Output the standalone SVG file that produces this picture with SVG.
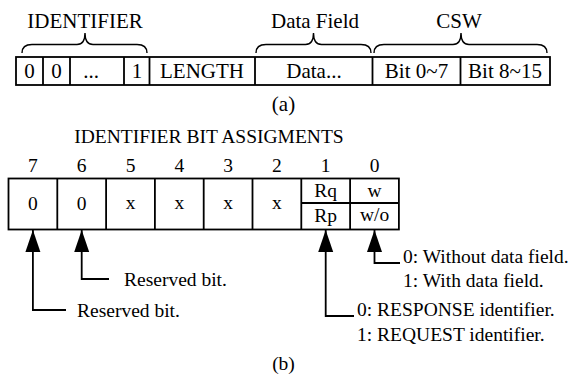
<svg xmlns="http://www.w3.org/2000/svg" width="571" height="376" viewBox="0 0 571 376">
<style>
text{font-family:"Liberation Serif","Times New Roman",serif;fill:#000}
.t{font-size:21px}
.b{font-size:19.5px}
.m{text-anchor:middle}
.box{fill:#fff;stroke:#000;stroke-width:1.8}
.ln{fill:none;stroke:#000;stroke-width:1.8}
.br{fill:none;stroke:#000;stroke-width:1.4}
</style>
<defs>
<marker id="ah" markerUnits="userSpaceOnUse" markerWidth="23" markerHeight="16" refX="22" refY="7.5" orient="auto"><path d="M0,0 L22,7.5 L0,15 z" fill="#000"/></marker>
</defs>
<rect width="571" height="376" fill="#fff"/>
<g id="labels-a">
<text class="t m" x="85" y="28">IDENTIFIER</text>
<text class="t m" x="315" y="28">Data Field</text>
<text class="t m" x="459" y="28">CSW</text>
<path class="br" d="M22,53 Q22,44.5 32,44.5 L77,44.5 Q85,44.5 85,33 Q85,44.5 93,44.5 L137,44.5 Q147,44.5 147,53"/>
<path class="br" d="M256,53 Q256,44.5 266,44.5 L305.5,44.5 Q313.5,44.5 313.5,33 Q313.5,44.5 321.5,44.5 L361,44.5 Q371,44.5 371,53"/>
<path class="br" d="M374,53 Q374,44.5 384,44.5 L453,44.5 Q461,44.5 461,33 Q461,44.5 469,44.5 L537,44.5 Q547,44.5 547,53"/>
</g>
<g id="frame-a">
<rect class="box" x="16" y="57" width="534" height="28"/>
<path class="ln" d="M43,57V85M70,57V85M124,57V85M149.5,57V85M255,57V85M372.5,57V85M460.5,57V85"/>
<text class="t m" x="29.5" y="78">0</text>
<text class="t m" x="56.5" y="78">0</text>
<text class="t m" x="91" y="78">...</text>
<text class="t m" x="137" y="78">1</text>
<text class="t m" x="202" y="78">LENGTH</text>
<text class="t m" x="314" y="78">Data...</text>
<text class="t m" x="416.5" y="78">Bit 0~7</text>
<text class="t m" x="505" y="78">Bit 8~15</text>
<text class="t m" x="283.5" y="111">(a)</text>
</g>
<g id="frame-b">
<text class="b m" x="209" y="143">IDENTIFIER BIT ASSIGMENTS</text>
<text class="b m" x="32.9" y="172">7</text>
<text class="b m" x="81.7" y="172">6</text>
<text class="b m" x="130.5" y="172">5</text>
<text class="b m" x="179.3" y="172">4</text>
<text class="b m" x="228.1" y="172">3</text>
<text class="b m" x="276.9" y="172">2</text>
<text class="b m" x="325.7" y="172">1</text>
<text class="b m" x="374.5" y="172">0</text>
<rect class="box" x="8.5" y="178.5" width="390.4" height="51"/>
<path class="ln" d="M57.3,178.5V229.5M106.1,178.5V229.5M154.9,178.5V229.5M203.7,178.5V229.5M252.5,178.5V229.5M301.3,178.5V229.5M350.1,178.5V229.5M301.3,203H398.9"/>
<text class="b m" x="32.9" y="210">0</text>
<text class="b m" x="81.7" y="210">0</text>
<text class="b m" x="130.5" y="209">x</text>
<text class="b m" x="179.3" y="209">x</text>
<text class="b m" x="228.1" y="209">x</text>
<text class="b m" x="276.9" y="209">x</text>
<text class="b m" x="325.7" y="197">Rq</text>
<text class="b m" x="325.7" y="222">Rp</text>
<text class="b m" x="374.5" y="197">w</text>
<text class="b m" x="374.5" y="221">w/o</text>
</g>
<g id="connectors">
<path class="ln" d="M66,310H32.9V230" marker-end="url(#ah)"/>
<path class="ln" d="M109,279H81.7V230" marker-end="url(#ah)"/>
<path class="ln" d="M354,316H325.7V230" marker-end="url(#ah)"/>
<path class="ln" d="M400,263H374.5V230" marker-end="url(#ah)"/>
</g>
<g id="notes">
<text class="b" x="124" y="285.5">Reserved bit.</text>
<text class="b" x="77" y="316.5">Reserved bit.</text>
<text class="b" x="403" y="262.5">0: Without data field.</text>
<text class="b" x="403" y="287">1: With data field.</text>
<text class="b" x="357" y="316">0: RESPONSE identifier.</text>
<text class="b" x="357" y="341">1: REQUEST identifier.</text>
<text class="b m" x="283.5" y="370">(b)</text>
</g>
</svg>
